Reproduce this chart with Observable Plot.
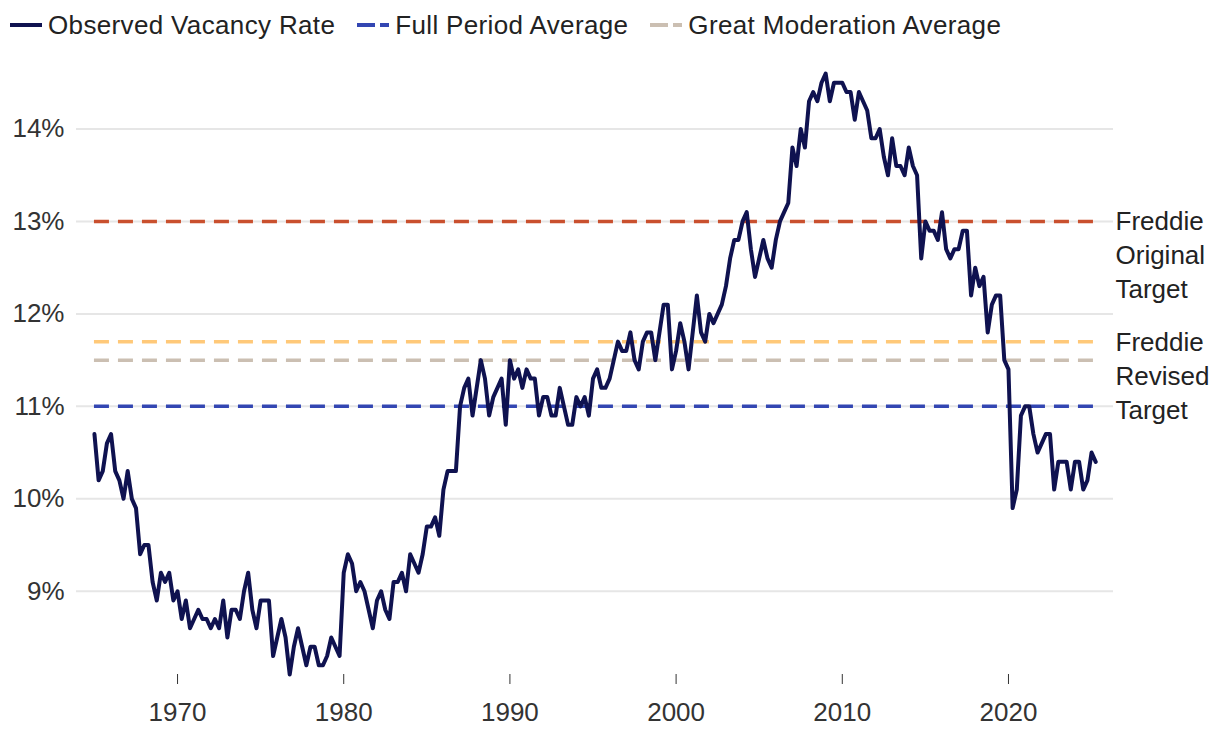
<!DOCTYPE html>
<html>
<head>
<meta charset="utf-8">
<script src="https://cdn.jsdelivr.net/npm/d3@7"></script>
<script src="https://cdn.jsdelivr.net/npm/@observablehq/plot@0.6"></script>
<style>
  html, body { margin: 0; padding: 0; background: #fff; }
  body { width: 1220px; height: 736px; overflow: hidden; font-family: "Liberation Sans", Arial, sans-serif; }
  #legend { height: 50px; display: flex; align-items: center; padding-left: 10px; font-size: 26px; color: #222; letter-spacing: 0.35px; }
  .item { display: flex; align-items: center; margin-right: 22px; }
  .item svg { margin-right: 6px; }
  #chart svg { display: block; }
</style>
</head>
<body>
<div id="legend"></div>
<div id="chart"></div>
<script>
// Quarterly observed vacancy rate (%), starting 1965 Q1
const startYear = 1965;
const vacancy = [
  10.7, 10.2, 10.3, 10.6,   10.7, 10.3, 10.2, 10.0,   10.3, 10.0, 9.9, 9.4,
  9.5, 9.5, 9.1, 8.9,       9.2, 9.1, 9.2, 8.9,       9.0, 8.7, 8.9, 8.6,
  8.7, 8.8, 8.7, 8.7,       8.6, 8.7, 8.6, 8.9,       8.5, 8.8, 8.8, 8.7,
  9.0, 9.2, 8.8, 8.6,       8.9, 8.9, 8.9, 8.3,       8.5, 8.7, 8.5, 8.1,
  8.4, 8.6, 8.4, 8.2,       8.4, 8.4, 8.2, 8.2,       8.3, 8.5, 8.4, 8.3,
  9.2, 9.4, 9.3, 9.0,       9.1, 9.0, 8.8, 8.6,       8.9, 9.0, 8.8, 8.7,
  9.1, 9.1, 9.2, 9.0,       9.4, 9.3, 9.2, 9.4,       9.7, 9.7, 9.8, 9.6,
  10.1, 10.3, 10.3, 10.3,   11.0, 11.2, 11.3, 10.9,   11.2, 11.5, 11.3, 10.9,
  11.1, 11.2, 11.3, 10.8,   11.5, 11.3, 11.4, 11.2,   11.4, 11.3, 11.3, 10.9,
  11.1, 11.1, 10.9, 10.9,   11.2, 11.0, 10.8, 10.8,   11.1, 11.0, 11.1, 10.9,
  11.3, 11.4, 11.2, 11.2,   11.3, 11.5, 11.7, 11.6,   11.6, 11.8, 11.5, 11.4,
  11.7, 11.8, 11.8, 11.5,   11.8, 12.1, 12.1, 11.4,   11.6, 11.9, 11.7, 11.4,
  11.8, 12.2, 11.8, 11.7,   12.0, 11.9, 12.0, 12.1,   12.3, 12.6, 12.8, 12.8,
  13.0, 13.1, 12.7, 12.4,   12.6, 12.8, 12.6, 12.5,   12.8, 13.0, 13.1, 13.2,
  13.8, 13.6, 14.0, 13.8,   14.3, 14.4, 14.3, 14.5,   14.6, 14.3, 14.5, 14.5,
  14.5, 14.4, 14.4, 14.1,   14.4, 14.3, 14.2, 13.9,   13.9, 14.0, 13.7, 13.5,
  13.9, 13.6, 13.6, 13.5,   13.8, 13.6, 13.5, 12.6,   13.0, 12.9, 12.9, 12.8,
  13.1, 12.7, 12.6, 12.7,   12.7, 12.9, 12.9, 12.2,   12.5, 12.3, 12.4, 11.8,
  12.1, 12.2, 12.2, 11.5,   11.4, 9.9, 10.1, 10.9,    11.0, 11.0, 10.7, 10.5,
  10.6, 10.7, 10.7, 10.1,   10.4, 10.4, 10.4, 10.1,   10.4, 10.4, 10.1, 10.2,
  10.5, 10.4
];

// Reference lines
const refNames  = ["Full Period Average", "Great Moderation Average", "Freddie Revised Target", "Freddie Original Target"];
const refValues = [11.0, 11.5, 11.7, 13.0];
const refColors = ["#3346b2", "#cbbfb2", "#ffc979", "#c9502e"];

// Right-side labels
const targetLabels = ["Freddie\nOriginal\nTarget", "Freddie\nRevised\nTarget"];
const targetValues = [13.0, 11.7];

// Legend
const legendNames  = ["Observed Vacancy Rate", "Full Period Average", "Great Moderation Average"];
const legendColors = ["#0f1250", "#3346b2", "#cbbfb2"];
const legendDashed = [false, true, true];

// Axes
const xTicks = [1970, 1980, 1990, 2000, 2010, 2020];
const yTicks = [9, 10, 11, 12, 13, 14];

const lineColor = "#0f1250";
const series = vacancy.map((v, i) => ({year: startYear + i / 4, value: v}));
const firstYear = series[0].year;
const lastYear = series[series.length - 1].year;
const refs = refNames.map((n, i) => ({name: n, value: refValues[i], color: refColors[i]}));

// legend
const legend = document.getElementById("legend");
legendNames.forEach((name, i) => {
  const item = document.createElement("div");
  item.className = "item";
  const dash = legendDashed[i] ? ' stroke-dasharray="18,5"' : '';
  item.innerHTML = `<svg width="32" height="10"><line x1="0" x2="32" y1="5" y2="5" stroke="${legendColors[i]}" stroke-width="4"${dash}/></svg><span>${name}</span>`;
  legend.appendChild(item);
});

const font = '"Liberation Sans", Arial, sans-serif';

const chart = Plot.plot({
  width: 1220,
  height: 686,
  marginTop: 23,
  marginBottom: 62,
  marginLeft: 76,
  marginRight: 107,
  style: {fontFamily: font, fontSize: "26px", color: "#333", background: "white", overflow: "visible"},
  x: {domain: [1963.92, 2026.32], ticks: xTicks, tickFormat: d => String(d), tickSize: 10, tickPadding: 18, label: null},
  y: {domain: [8.1, 14.6], ticks: yTicks, tickFormat: d => d + "%", tickSize: 0, tickPadding: 12, label: null},
  marks: [
    Plot.gridY(yTicks, {stroke: "#e6e6e6", strokeOpacity: 1, strokeWidth: 2}),
    ...refs.map(r => Plot.ruleY([r], {
      y: "value", x1: () => firstYear, x2: () => lastYear,
      stroke: r.color, strokeWidth: 3.5, strokeDasharray: "15,9"
    })),
    Plot.line(series, {x: "year", y: "value", stroke: lineColor, strokeWidth: 4, strokeLinejoin: "round"}),
    Plot.text(targetLabels, {
      y: (d, i) => targetValues[i], text: d => d,
      frameAnchor: "right", textAnchor: "start", dx: 2,
      lineAnchor: "middle", lineHeight: 1.3077, dy: 32,
      fill: "#222", fontSize: 26
    })
  ]
});
document.getElementById("chart").appendChild(chart);
</script>
</body>
</html>
